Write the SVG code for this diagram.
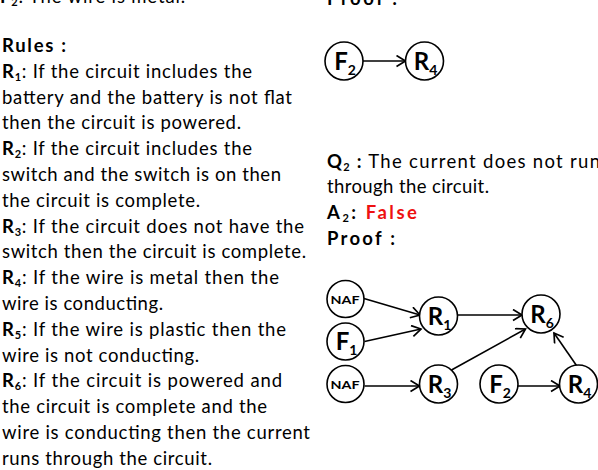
<svg xmlns="http://www.w3.org/2000/svg" width="598" height="470" viewBox="0 0 598 470">
<defs>
<style>
text{font-family:Lato,"Open Sans","DejaVu Sans",sans-serif;fill:#000}
.t{font-size:18.5px}
.b{font-weight:bold}
.s{font-size:11px}
.red{fill:#ee1111;font-weight:bold}
.node circle{fill:#fff;stroke:#000;stroke-width:1.6}
text.lab{font-weight:bold;font-size:24px;text-anchor:middle}
text.naf{font-weight:bold;font-size:12px;text-anchor:middle}
tspan.sub{font-size:14px}
#edges line{stroke:#000;stroke-width:1.6;marker-end:url(#ah)}
</style>
<marker id="ah" markerUnits="userSpaceOnUse" markerWidth="14" markerHeight="14" refX="10.5" refY="6" orient="auto">
<path d="M1.5,0.5 L10.5,6 L1.5,11.5" fill="none" stroke="#000" stroke-width="1.7"/>
</marker>
</defs>

<g id="left-text" class="t">
<text x="0" y="2.5" textLength="185" lengthAdjust="spacing"><tspan class="b">F</tspan><tspan class="s b" dy="3">2</tspan><tspan dy="-3">:  The wire is metal.</tspan></text>
<text x="2" y="52" class="b" textLength="64" lengthAdjust="spacing">Rules :</text>
<text x="2" y="77.8" textLength="250" lengthAdjust="spacing"><tspan class="b">R</tspan><tspan class="s b" dy="3">1</tspan><tspan dy="-3">:  If the circuit includes the</tspan></text>
<text x="2" y="103.6" textLength="290" lengthAdjust="spacing">battery and the battery is not flat</text>
<text x="2" y="129.4" textLength="239" lengthAdjust="spacing">then the circuit is powered.</text>
<text x="2" y="155.2" textLength="250" lengthAdjust="spacing"><tspan class="b">R</tspan><tspan class="s b" dy="3">2</tspan><tspan dy="-3">:  If the circuit includes the</tspan></text>
<text x="2" y="181" textLength="279" lengthAdjust="spacing">switch and the switch is on then</text>
<text x="2" y="206.8" textLength="198" lengthAdjust="spacing">the circuit is complete.</text>
<text x="2" y="232.6" textLength="302" lengthAdjust="spacing"><tspan class="b">R</tspan><tspan class="s b" dy="3">3</tspan><tspan dy="-3">:  If the circuit does not have the</tspan></text>
<text x="2" y="258.4" textLength="304" lengthAdjust="spacing">switch then the circuit is complete.</text>
<text x="2" y="284.2" textLength="277" lengthAdjust="spacing"><tspan class="b">R</tspan><tspan class="s b" dy="3">4</tspan><tspan dy="-3">:  If the wire is metal then the</tspan></text>
<text x="2" y="310" textLength="161" lengthAdjust="spacing">wire is conducting.</text>
<text x="2" y="335.8" textLength="284" lengthAdjust="spacing"><tspan class="b">R</tspan><tspan class="s b" dy="3">5</tspan><tspan dy="-3">:  If the wire is plastic then the</tspan></text>
<text x="2" y="361.6" textLength="197" lengthAdjust="spacing">wire is not conducting.</text>
<text x="2" y="387.4" textLength="280" lengthAdjust="spacing"><tspan class="b">R</tspan><tspan class="s b" dy="3">6</tspan><tspan dy="-3">:  If the circuit is powered and</tspan></text>
<text x="2" y="413.2" textLength="265" lengthAdjust="spacing">the circuit is complete and the</text>
<text x="2" y="439" textLength="308" lengthAdjust="spacing">wire is conducting then the current</text>
<text x="2" y="464.8" textLength="210" lengthAdjust="spacing">runs through the circuit.</text>
</g>

<g id="right-text" class="t">
<text x="327" y="5" class="b" textLength="70" lengthAdjust="spacing">Proof :</text>
<text x="327" y="167.5" textLength="273" lengthAdjust="spacing"><tspan class="b">Q</tspan><tspan class="s b" dy="3">2</tspan><tspan class="b" dy="-3"> :</tspan><tspan>  The current does not run</tspan></text>
<text x="327" y="193.2" textLength="162" lengthAdjust="spacing">through the circuit.</text>
<text x="327" y="218.9" textLength="90" lengthAdjust="spacing"><tspan class="b">A</tspan><tspan class="s b" dy="3">2</tspan><tspan class="b" dy="-3">:  </tspan><tspan class="red">False</tspan></text>
<text x="327" y="244.6" class="b" textLength="68" lengthAdjust="spacing">Proof :</text>
</g>

<g id="edges">
<line x1="363" y1="61" x2="405.5" y2="61"/>
<line x1="364" y1="298.5" x2="420" y2="315"/>
<line x1="364.5" y1="341.5" x2="421" y2="329"/>
<line x1="457.5" y1="315" x2="522" y2="315"/>
<line x1="364.5" y1="386" x2="419.5" y2="386"/>
<line x1="451.5" y1="370" x2="525.5" y2="329"/>
<line x1="518" y1="386" x2="560" y2="386"/>
<line x1="576.5" y1="365.5" x2="554" y2="333"/>
</g>

<g id="p1-F2" class="node"><circle cx="344" cy="61" r="19"/><text class="lab" x="345" y="69.5">F<tspan class="sub" dy="5">2</tspan></text></g>
<g id="p1-R4" class="node"><circle cx="424.5" cy="61" r="19"/><text class="lab" x="425.5" y="69.5">R<tspan class="sub" dy="5">4</tspan></text></g>

<g id="NAF1" class="node"><circle cx="345.5" cy="299" r="18.5"/><text class="naf" x="345" y="303.5" textLength="29" lengthAdjust="spacingAndGlyphs">NAF</text></g>
<g id="F1" class="node"><circle cx="345.5" cy="341.5" r="18.5"/><text class="lab" x="346.5" y="350">F<tspan class="sub" dy="5">1</tspan></text></g>
<g id="NAF2" class="node"><circle cx="345.5" cy="384" r="18.5"/><text class="naf" x="345" y="388.5" textLength="29" lengthAdjust="spacingAndGlyphs">NAF</text></g>
<g id="R1" class="node"><circle cx="438.5" cy="316" r="19"/><text class="lab" x="439.5" y="324.5">R<tspan class="sub" dy="5">1</tspan></text></g>
<g id="R3" class="node"><circle cx="438.5" cy="384" r="19"/><text class="lab" x="439.5" y="392.5">R<tspan class="sub" dy="5">3</tspan></text></g>
<g id="R6" class="node"><circle cx="541" cy="314" r="19"/><text class="lab" x="542" y="322.5">R<tspan class="sub" dy="5">6</tspan></text></g>
<g id="F2" class="node"><circle cx="499" cy="384" r="19"/><text class="lab" x="500" y="392.5">F<tspan class="sub" dy="5">2</tspan></text></g>
<g id="R4" class="node"><circle cx="578.5" cy="384" r="19"/><text class="lab" x="579.5" y="392.5">R<tspan class="sub" dy="5">4</tspan></text></g>
</svg>
